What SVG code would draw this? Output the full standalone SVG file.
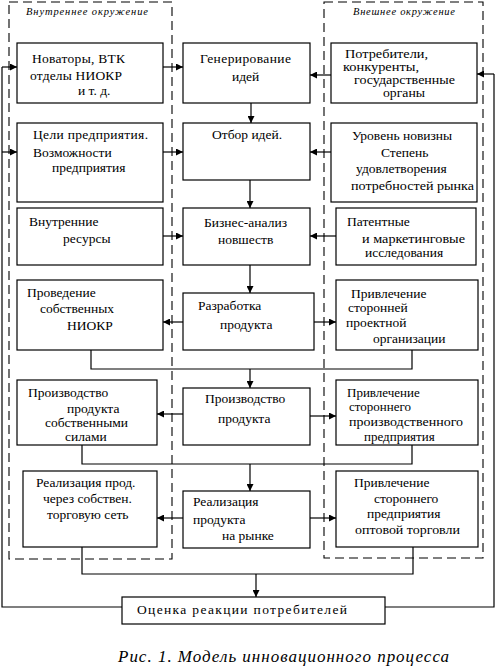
<svg xmlns="http://www.w3.org/2000/svg" width="498" height="672" viewBox="0 0 498 672">
<defs>
<marker id="ah" viewBox="0 0 8 8" refX="8" refY="4" markerWidth="7" markerHeight="7" markerUnits="userSpaceOnUse" orient="auto">
<path d="M0,0 L8,4 L0,8 Z" fill="#000"/>
</marker>
</defs>
<style>
.bx{fill:#fff;stroke:#000;stroke-width:1.2}
text{font-family:"Liberation Serif","DejaVu Serif",serif;fill:#000}
.t{font-size:13.5px}
.s{font-size:13px}
.xs{font-size:11.5px}
.hd{font-size:10.5px;font-style:italic}
.cap{font-size:17px;font-style:italic}
.env{fill:none;stroke:#000;stroke-width:1.1;stroke-dasharray:9,5}
.c{fill:none;stroke:#000;stroke-width:1.2}
.a{fill:none;stroke:#000;stroke-width:1.2;marker-end:url(#ah)}
</style>
<rect width="498" height="672" fill="#fff"/>
<g id="env-internal">
<rect class="env" x="9" y="2" width="163" height="557"/>
<text class="hd" x="26" y="15" textLength="122" lengthAdjust="spacing">Внутреннее  окружение</text>
</g>
<g id="env-external">
<rect class="env" x="324" y="2" width="159" height="556"/>
<text class="hd" x="353" y="15" textLength="102" lengthAdjust="spacing">Внешнее окружение</text>
</g>
<g id="connectors">
<path class="a" d="M163,67 H183"/>
<path class="a" d="M163,152 H183"/>
<path class="a" d="M163,236 H183"/>
<path class="a" d="M183,322 H163"/>
<path class="a" d="M183,414 H157"/>
<path class="a" d="M183,518 H157"/>
<path class="a" d="M331,75 H310"/>
<path class="a" d="M331,152 H310"/>
<path class="a" d="M336,236 H310"/>
<path class="a" d="M314,322 H336"/>
<path class="a" d="M310,416 H336"/>
<path class="a" d="M310,518 H336"/>
<path class="a" d="M251,103 V123"/>
<path class="a" d="M250,180 V208"/>
<path class="a" d="M250,265 V293"/>
<path class="c" d="M91,350 V369 H412 V350"/>
<path class="a" d="M250,369 V388"/>
<path class="c" d="M82,445 V464 H412 V445"/>
<path class="a" d="M250,464 V491"/>
<path class="c" d="M82,547 V574 H413 V547"/>
<path class="a" d="M256,574 V597"/>
<path class="c" d="M122,607 H2 V67"/>
<path class="a" d="M2,67 H17"/>
<path class="a" d="M2,152 H17"/>
<path class="c" d="M385,607 H494 V74"/>
<path class="a" d="M494,74 H477"/>
</g>
<g id="n-novatory">
<rect class="bx" x="17" y="43" width="146" height="60"/>
<text class="t" x="32" y="63" textLength="93">Новаторы, ВТК</text>
<text class="t" x="30" y="80" textLength="92">отделы НИОКР</text>
<text class="t" x="78" y="95">и т. д.</text>
</g>
<g id="n-celi">
<rect class="bx" x="17" y="123" width="146" height="79"/>
<text class="t" x="33" y="139" textLength="115">Цели предприятия.</text>
<text class="t" x="33" y="157">Возможности</text>
<text class="t" x="52" y="172">предприятия</text>
</g>
<g id="n-resursy">
<rect class="bx" x="17" y="208" width="146" height="57"/>
<text class="t" x="29" y="226">Внутренние</text>
<text class="t" x="63" y="243">ресурсы</text>
</g>
<g id="n-niokr">
<rect class="bx" x="17" y="280" width="146" height="70"/>
<text class="t" x="27" y="297">Проведение</text>
<text class="t" x="40" y="313">собственных</text>
<text class="t" x="67" y="330">НИОКР</text>
</g>
<g id="n-proizv-sobst">
<rect class="bx" x="17" y="380" width="140" height="65"/>
<text class="t" x="28" y="397">Производство</text>
<text class="t" x="67" y="413">продукта</text>
<text class="t" x="45" y="427">собственными</text>
<text class="t" x="65" y="441">силами</text>
</g>
<g id="n-real-sobst">
<rect class="bx" x="23" y="471" width="134" height="76"/>
<text class="t" x="36" y="487">Реализация прод.</text>
<text class="t" x="43" y="503">через собствен.</text>
<text class="t" x="47" y="519">торговую сеть</text>
</g>
<g id="n-gener">
<rect class="bx" x="183" y="43" width="127" height="60"/>
<text class="t" x="200" y="63" textLength="91">Генерирование</text>
<text class="t" x="232" y="81">идей</text>
</g>
<g id="n-otbor">
<rect class="bx" x="183" y="123" width="127" height="57"/>
<text class="t" x="212" y="139">Отбор идей.</text>
</g>
<g id="n-biznes">
<rect class="bx" x="183" y="208" width="127" height="57"/>
<text class="t" x="204" y="227">Бизнес-анализ</text>
<text class="t" x="218" y="244">новшеств</text>
</g>
<g id="n-razrab">
<rect class="bx" x="183" y="293" width="131" height="57"/>
<text class="t" x="198" y="310">Разработка</text>
<text class="t" x="220" y="329">продукта</text>
</g>
<g id="n-proizv">
<rect class="bx" x="183" y="388" width="127" height="57"/>
<text class="t" x="205" y="403">Производство</text>
<text class="t" x="218" y="423">продукта</text>
</g>
<g id="n-real">
<rect class="bx" x="183" y="491" width="127" height="57"/>
<text class="t" x="193" y="506">Реализация</text>
<text class="t" x="193" y="524">продукта</text>
<text class="t" x="222" y="540">на рынке</text>
</g>
<g id="n-potreb">
<rect class="bx" x="331" y="43" width="146" height="60"/>
<text class="xs" x="345" y="58" textLength="83" lengthAdjust="spacingAndGlyphs">Потребители,</text>
<text class="xs" x="343" y="71" textLength="76" lengthAdjust="spacingAndGlyphs">конкуренты,</text>
<text class="xs" x="354" y="84" textLength="101" lengthAdjust="spacingAndGlyphs">государственные</text>
<text class="xs" x="383" y="97" textLength="42" lengthAdjust="spacingAndGlyphs">органы</text>
</g>
<g id="n-uroven">
<rect class="bx" x="331" y="123" width="146" height="79"/>
<text class="t" x="352" y="140">Уровень новизны</text>
<text class="t" x="381" y="157">Степень</text>
<text class="t" x="356" y="173">удовлетворения</text>
<text class="t" x="351" y="190" textLength="123" lengthAdjust="spacingAndGlyphs">потребностей рынка</text>
</g>
<g id="n-patent">
<rect class="bx" x="336" y="208" width="140" height="57"/>
<text class="t" x="347" y="226">Патентные</text>
<text class="t" x="362" y="243" textLength="103" lengthAdjust="spacingAndGlyphs">и маркетинговые</text>
<text class="t" x="365" y="257">исследования</text>
</g>
<g id="n-proekt">
<rect class="bx" x="336" y="280" width="142" height="70"/>
<text class="t" x="351" y="298">Привлечение</text>
<text class="t" x="348" y="312">сторонней</text>
<text class="t" x="346" y="327">проектной</text>
<text class="t" x="373" y="343">организации</text>
</g>
<g id="n-proizv-ext">
<rect class="bx" x="336" y="380" width="142" height="65"/>
<text class="s" x="347" y="397">Привлечение</text>
<text class="s" x="349" y="411">стороннего</text>
<text class="s" x="349" y="426" textLength="114" lengthAdjust="spacingAndGlyphs">производственного</text>
<text class="s" x="364" y="441">предприятия</text>
</g>
<g id="n-opt">
<rect class="bx" x="336" y="471" width="142" height="76"/>
<text class="t" x="354" y="487">Привлечение</text>
<text class="t" x="374" y="503">стороннего</text>
<text class="t" x="367" y="518">предприятия</text>
<text class="t" x="355" y="534" textLength="105" lengthAdjust="spacingAndGlyphs">оптовой торговли</text>
</g>
<g id="n-ocenka">
<rect class="bx" x="122" y="597" width="263" height="27"/>
<text class="t" x="137" y="614" textLength="210">Оценка реакции потребителей</text>
</g>
<g id="caption">
<text class="cap" x="118" y="662" textLength="331" lengthAdjust="spacing">Рис. 1. Модель инновационного процесса</text>
</g>
</svg>
